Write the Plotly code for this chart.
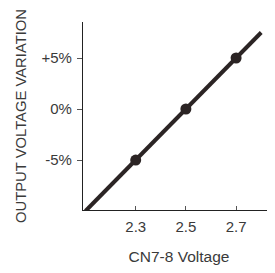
import plotly.graph_objects as go

# data
line_x = [2.1, 2.3, 2.5, 2.7, 2.8]
line_y = [-10, -5, 0, 5, 7.5]
point_x = [2.3, 2.5, 2.7]
point_y = [-5, 0, 5]
x_ticks = [2.3, 2.5, 2.7]
x_tick_labels = ["2.3", "2.5", "2.7"]
y_ticks = [-5, 0, 5]
y_tick_labels = ["-5%", "0%", "+5%"]

FONT = "Liberation Sans Narrow, Arial Narrow, Liberation Sans, Arial, sans-serif"
INK = "#2b2424"
TXT = "#3a3a3a"

fig = go.Figure()
fig.add_trace(go.Scatter(x=line_x, y=line_y, mode="lines",
                         line=dict(color=INK, width=4), hoverinfo="skip"))
fig.add_trace(go.Scatter(x=point_x, y=point_y, mode="markers",
                         marker=dict(color=INK, size=11), hoverinfo="skip"))

fig.update_layout(
    width=267, height=257,
    margin=dict(l=75, r=0, t=14, b=55),
    paper_bgcolor="white", plot_bgcolor="white",
    showlegend=False,
    font=dict(family=FONT, size=15, color=TXT),
    xaxis=dict(range=[2.09, 2.855], tickvals=x_ticks, ticktext=x_tick_labels,
               automargin=False,
               showgrid=False, zeroline=False, showline=True, linecolor="#222",
               linewidth=1.3, ticks="inside", ticklen=4, tickcolor="#555",
               ticklabelstandoff=3,
               tickfont=dict(size=15, color=TXT),
               title=dict(text="CN7-8 Voltage", font=dict(size=15.5, color=TXT), standoff=20)),
    yaxis=dict(range=[-9.9, 8.53], tickvals=y_ticks, ticktext=y_tick_labels,
               automargin=False,
               showgrid=False, zeroline=False, showline=True, linecolor="#222",
               linewidth=1.3, ticks="outside", ticklen=5, tickcolor="#555",
               ticklabelstandoff=2,
               tickfont=dict(size=15, color=TXT),
               title=dict(text="OUTPUT VOLTAGE VARIATION", font=dict(size=14.8, color=TXT), standoff=11)),
)

fig.write_html("out.html")
